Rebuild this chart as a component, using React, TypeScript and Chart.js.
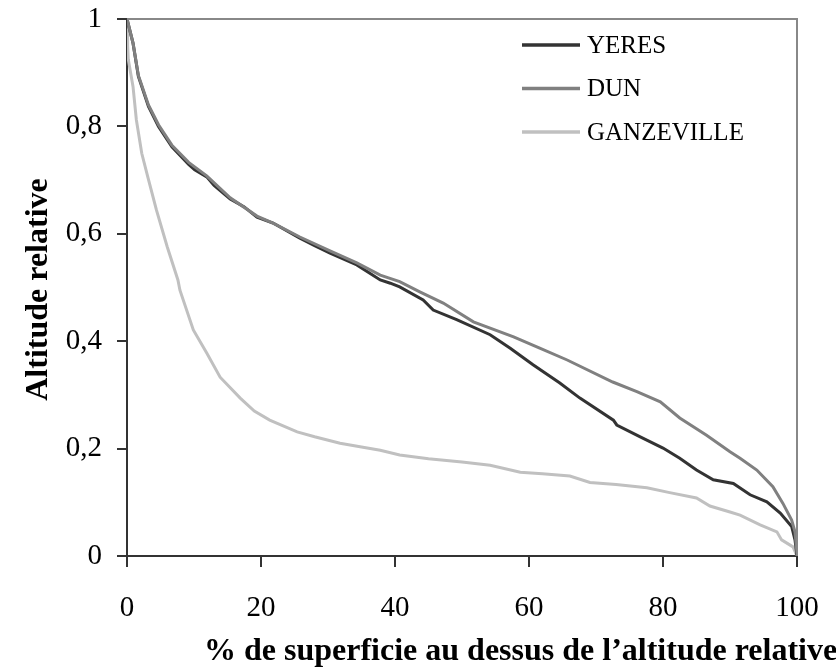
import React, { useEffect, useRef } from "react";
import { Chart, registerables } from "chart.js";

Chart.register(...registerables);

const xTicks = [0, 20, 40, 60, 80, 100];
const yTicks = [0, 0.2, 0.4, 0.6, 0.8, 1];

const seriesNames = ["YERES", "DUN", "GANZEVILLE"];
const seriesColors = ["#333333", "#808080", "#c0c0c0"];

const yeresX = [0, 0.9, 1.7, 3.2, 4.7, 6.7, 9.2, 10.1, 11.9, 13, 15.4, 17.5, 19.4, 21.8, 25.8, 28, 30.3, 34.3, 37.8, 39.3, 40.7, 44.2, 45.7, 49.2, 54.2, 57.2, 60.6, 64.6, 67.6, 72.6, 73.1, 76.6, 80, 82.5, 85, 87.5, 90.5, 93, 95.5, 97.5, 99.2, 99.7, 100];
const yeresY = [1, 0.955, 0.893, 0.837, 0.8, 0.762, 0.729, 0.719, 0.706, 0.69, 0.665, 0.65, 0.631, 0.62, 0.592, 0.578, 0.564, 0.542, 0.514, 0.508, 0.501, 0.477, 0.458, 0.44, 0.412, 0.387, 0.356, 0.322, 0.294, 0.253, 0.244, 0.222, 0.201, 0.182, 0.16, 0.142, 0.135, 0.114, 0.101, 0.08, 0.055, 0.03, 0.0];

const dunX = [0, 0.9, 1.7, 3.2, 4.7, 6.7, 9.2, 11.9, 15.4, 19.4, 21.8, 25.8, 30.3, 34.3, 37.8, 40.7, 43.7, 47.2, 51.7, 57.7, 61.6, 65.7, 72.5, 76.1, 79.6, 82.5, 86.5, 90, 91.5, 94, 96.4, 97.9, 99.2, 99.7, 100];
const dunY = [1, 0.955, 0.895, 0.84, 0.803, 0.765, 0.733, 0.708, 0.667, 0.633, 0.62, 0.594, 0.568, 0.546, 0.523, 0.511, 0.492, 0.471, 0.436, 0.408, 0.387, 0.365, 0.324, 0.306, 0.287, 0.257, 0.225, 0.194, 0.182, 0.16, 0.129, 0.098, 0.067, 0.045, 0.005];

const ganzX = [0, 0.1, 0.2, 0.9, 1.4, 2.2, 3.1, 4.4, 6, 7.6, 7.9, 9.9, 11.9, 13.9, 16.9, 19, 21.3, 25.4, 28, 31.8, 35, 37.8, 40.7, 45, 50, 54.2, 58.7, 62, 66.1, 69.1, 73, 77.6, 81, 85, 87, 90, 91.5, 94.5, 97, 97.7, 99.4, 100];
const ganzY = [1, 0.95, 0.924, 0.874, 0.812, 0.75, 0.706, 0.644, 0.576, 0.514, 0.495, 0.421, 0.378, 0.333, 0.294, 0.27, 0.253, 0.231, 0.222, 0.21, 0.203, 0.197, 0.188, 0.181, 0.175, 0.169, 0.156, 0.153, 0.149, 0.137, 0.133, 0.127, 0.118, 0.108, 0.093, 0.082, 0.076, 0.058, 0.045, 0.03, 0.017, 0];

const xTitle = "% de superficie au dessus de l\u2019altitude relative";
const yTitle = "Altitude relative";

const SERIF = "'Liberation Serif', 'Times New Roman', serif";

function pts(xs: number[], ys: number[]) {
  return xs.map((x, i) => ({ x, y: ys[i] }));
}

const decorPlugin = {
  id: "decor",
  afterDatasetsDraw(chart: any) {
    const { ctx, chartArea } = chart;
    const { left, right, top, bottom } = chartArea;
    ctx.save();
    // frame top & right
    ctx.strokeStyle = "#888888";
    ctx.lineWidth = 2;
    ctx.beginPath();
    ctx.moveTo(left, top);
    ctx.lineTo(right, top);
    ctx.lineTo(right, bottom);
    ctx.stroke();

    // legend
    ctx.font = `25px ${SERIF}`;
    ctx.textBaseline = "middle";
    ctx.textAlign = "left";
    chart.data.datasets.forEach((ds: any, i: number) => {
      const y = top + 26 + i * 43.5;
      ctx.strokeStyle = ds.borderColor;
      ctx.lineWidth = 3.5;
      ctx.beginPath();
      ctx.moveTo(522, y);
      ctx.lineTo(580, y);
      ctx.stroke();
      ctx.fillStyle = "#000";
      ctx.fillText(ds.label, 587, y + 1);
    });

    // axis titles
    ctx.fillStyle = "#000";
    ctx.font = `bold 32px ${SERIF}`;
    ctx.textAlign = "left";
    ctx.textBaseline = "alphabetic";
    ctx.fillText(xTitle, 204, 660);

    ctx.save();
    ctx.translate(47, (top + bottom) / 2 + 2);
    ctx.rotate(-Math.PI / 2);
    ctx.textAlign = "center";
    ctx.fillText(yTitle, 0, 0);
    ctx.restore();
    ctx.restore();
  },
};

export default function App() {
  const ref = useRef<HTMLCanvasElement | null>(null);
  useEffect(() => {
    if (!ref.current) return;
    const chart = new Chart(ref.current, {
      type: "line",
      data: {
        datasets: [
          { label: seriesNames[0], data: pts(yeresX, yeresY), borderColor: seriesColors[0], borderWidth: 3, pointRadius: 0, tension: 0, fill: false, order: 1 },
          { label: seriesNames[1], data: pts(dunX, dunY), borderColor: seriesColors[1], borderWidth: 3, pointRadius: 0, tension: 0, fill: false, order: 0 },
          { label: seriesNames[2], data: pts(ganzX, ganzY), borderColor: seriesColors[2], borderWidth: 3, pointRadius: 0, tension: 0, fill: false, order: 2 },
        ],
      },
      options: {
        responsive: false,
        animation: false,
        layout: { padding: { top: 19, right: 39, left: 0, bottom: 0 } },
        plugins: { legend: { display: false }, tooltip: { enabled: false } },
        scales: {
          x: {
            type: "linear",
            min: 0,
            max: 100,
            afterBuildTicks: (s: any) => { s.ticks = xTicks.map((v) => ({ value: v })); },
            afterFit: (s: any) => { s.height = 114; s.paddingLeft = 0; s.paddingRight = 0; },
            ticks: { font: { size: 29, family: SERIF }, color: "#000", padding: 24, maxRotation: 0 },
            grid: { display: true, drawOnChartArea: false, drawTicks: true, tickLength: 11, color: "#333", lineWidth: 2 },
            border: { display: true, color: "#333", width: 2 },
          },
          y: {
            type: "linear",
            min: 0,
            max: 1,
            afterBuildTicks: (s: any) => { s.ticks = yTicks.map((v) => ({ value: v })); },
            afterFit: (s: any) => { s.width = 127; s.paddingTop = 0; s.paddingBottom = 0; },
            ticks: {
              font: { size: 29, family: SERIF },
              color: "#000",
              padding: 15,
              callback: (v: any) => (v === 0 ? "0" : v === 1 ? "1" : Number(v).toFixed(1).replace(".", ",")),
            },
            grid: { display: true, drawOnChartArea: false, drawTicks: true, tickLength: 10, color: "#333", lineWidth: 2 },
            border: { display: true, color: "#333", width: 2 },
          },
        },
      },
      plugins: [decorPlugin],
    });
    return () => chart.destroy();
  }, []);
  return (
    <div style={{ position: "absolute", left: 0, top: 0, width: 836, height: 670, background: "#fff" }}>
      <canvas ref={ref} width={836} height={670} style={{ display: "block" }} />
    </div>
  );
}
